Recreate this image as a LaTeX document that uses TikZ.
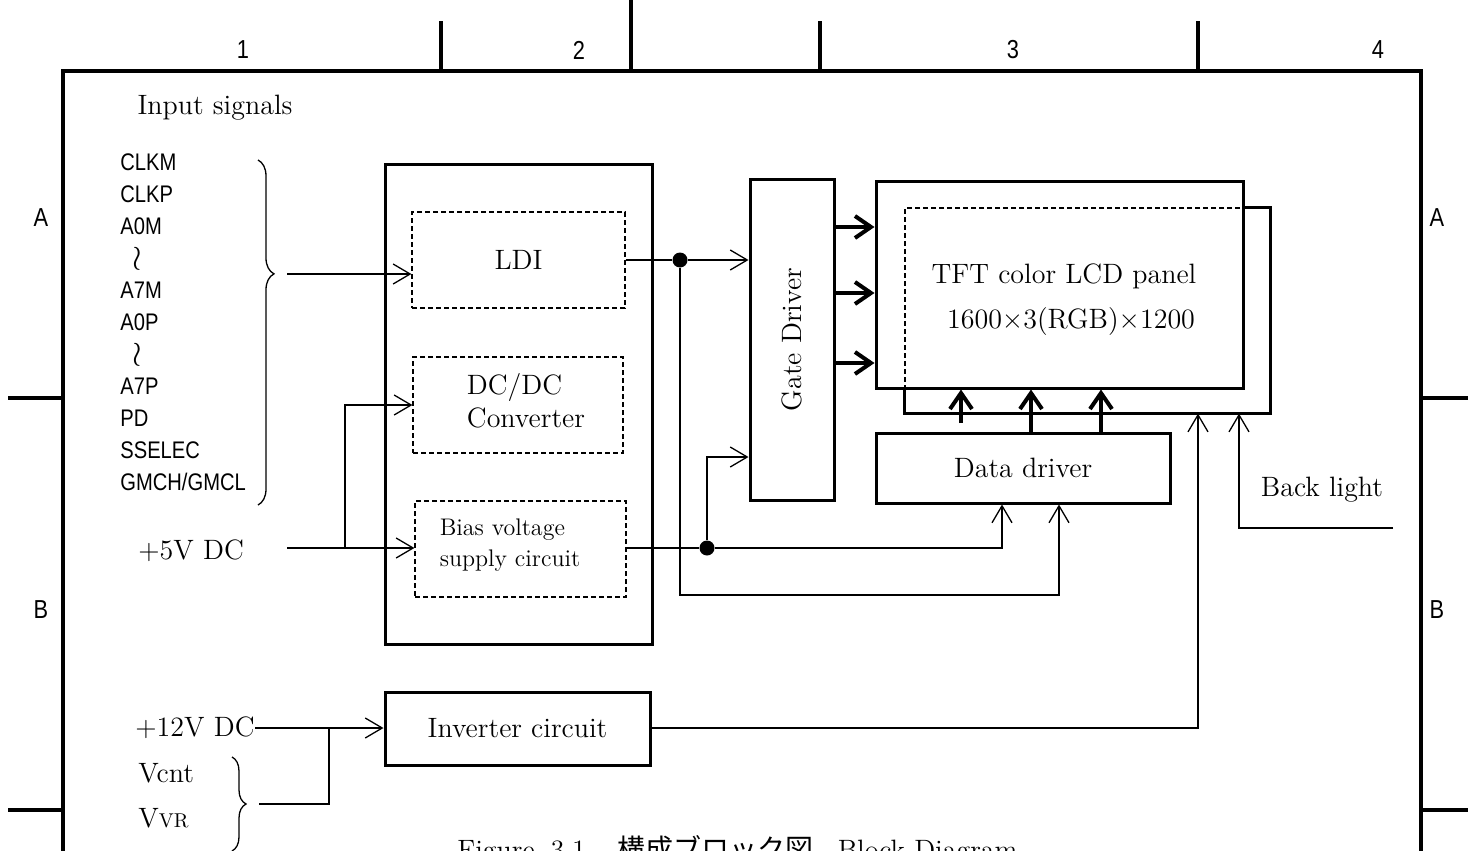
\documentclass[tikz,border=0pt]{standalone}
\usepackage{fontspec}
\usetikzlibrary{arrows.meta,decorations.pathreplacing}
\newfontfamily\gothic[FakeStretch=0.84]{Liberation Sans}
\newfontfamily\jpfont{Noto Sans CJK JP}
\newcommand{\waveto}{\hspace{6pt}\smash{\raisebox{-4.5pt}{\fontsize{16}{17}\selectfont$\wr$}}}

\begin{document}
\begin{tikzpicture}[x=0.5pt,y=-0.5pt,
    every node/.style={font=\fontsize{14}{16.5}\selectfont},
    frame/.style={line width=2pt},
    blk/.style={draw,line width=1.5pt,inner sep=0pt},
    sub/.style={draw,line width=0.6pt,dash pattern=on 2.5pt off 1.5pt,inner sep=0pt},
    wire/.style={line width=0.65pt},
    conn/.style={wire,-{Straight Barb[length=8.5pt,width=10pt]}},
    bus/.style={line width=2pt,-{Straight Barb[length=8pt,width=11pt]}},
    sig/.style={anchor=west,inner sep=0pt,font=\gothic\fontsize{12}{14}\selectfont},
    zone/.style={font=\gothic\fontsize{13}{15}\selectfont},
    dot/.style={circle,fill,inner sep=0pt,minimum size=7.5pt}]
    \useasboundingbox (0,0) rectangle (1468,851);
    \clip (0,0) rectangle (1468,851);

    % drawing frame
    \draw[frame] (63,851) -- (63,71) -- (1421,71) -- (1421,851);
    \draw[frame] (441,21) -- (441,71) (631,0) -- (631,71) (820,21) -- (820,71) (1198,21) -- (1198,71);
    \draw[frame] (8,398) -- (63,398) (8,810) -- (63,810) (1421,398) -- (1468,398) (1421,810) -- (1468,810);
    \foreach \t/\x in {1/243,2/579,3/1013,4/1378}
        \node[zone] (col\t) at (\x,50) {\t};
    \foreach \t/\y in {A/218,B/610} {
        \node[zone] (row\t l) at (41,\y) {\t};
        \node[zone] (row\t r) at (1437,\y) {\t};
    }

    % input signals
    \node (insig) at (215,108) {Input signals};
    \foreach \t [count=\i] in {CLKM,CLKP,A0M,\waveto,A7M,A0P,\waveto,A7P,PD,SSELEC,{GMCH/GMCL}}
        \node[sig] (sig\i) at (120,130+32*\i) {\t};
    \draw[wire,decorate,decoration={brace,amplitude=8pt,aspect=0.33}] (258,160) -- (258,505);
    \coordinate (in) at (287,274);

    % interface board
    \node[blk,minimum width=133.5pt,minimum height=240pt] (board) at (518.5,404) {};
    \node[sub,minimum width=106.5pt,minimum height=48pt] (ldi) at (518.5,260) {LDI};
    \node[sub,minimum width=105pt,minimum height=48pt] (dcdc) at (518,405) {};
    \node[align=left,inner sep=0pt] (dcdct) at (526,401) {DC/DC\\Converter};
    \node[sub,minimum width=105.5pt,minimum height=48pt] (bias) at (520.5,549) {};
    \node[align=left,inner sep=0pt,font=\fontsize{12}{15.5}\selectfont] (biast) at (510,545) {Bias voltage\\supply circuit};

    % panel side
    \node[blk,minimum width=42pt,minimum height=160.5pt] (gate) at (792,339.5) {};
    \node[rotate=90] (gatet) at (gate.center) {Gate Driver};
    \node[sub,minimum width=182.5pt,minimum height=102.5pt] (back) at (1087.5,310.5) {};
    \node[blk,minimum width=183.5pt,minimum height=103.5pt] (tft) at (1059.5,284.5) {};
    \draw[line width=1.5pt] (tft.east |- back.north) -- (back.north east) -- (back.south east)
        -- (back.south west) -- (back.west |- tft.south);
    \node[align=center,inner sep=0pt] (tftt) at (1064,300) {TFT color LCD panel\\[6pt]\hspace{7pt}1600×3(RGB)×1200};
    \node[blk,minimum width=147pt,minimum height=35pt] (data) at (1023,468) {Data driver};

    \foreach \y in {227,293,363}
        \draw[bus] (gate.east |- 0,\y) -- (tft.west |- 0,\y);
    \coordinate (d0) at (961,423);
    \draw[bus] (d0) -- (d0 |- tft.south);
    \foreach \x in {1031,1101}
        \draw[bus] (\x,0 |- data.north) -- (\x,0 |- tft.south);

    % signal path
    \draw[conn] (in) -- (in -| ldi.west);
    \node[dot] (j1) at (680,260) {};
    \draw[wire] (ldi.east) -- (j1);
    \draw[conn] (j1) -- (j1 -| gate.west);
    \coordinate (c1) at (1059,595);
    \draw[conn] (j1) |- (c1) -- (c1 |- data.south);

    % +5V
    \node[anchor=west,inner sep=0pt] (v5) at (138,551) {+5V DC};
    \coordinate (p5) at (287,548);
    \coordinate (j5) at (345,548);
    \draw[conn] (p5) -- (p5 -| bias.west);
    \draw[conn] (j5) |- (dcdc.west);
    \node[dot] (j2) at (707,548) {};
    \draw[wire] (bias.east |- j2) -- (j2);
    \coordinate (c2) at (1002,548);
    \draw[conn] (j2) -- (c2) -- (c2 |- data.south);
    \draw[conn] (j2) |- (gate.west |- 0,457);

    % back light
    \node[anchor=east,inner sep=0pt] (v12) at (255,728) {+12V DC};
    \node[blk,minimum width=132.5pt,minimum height=36.5pt] (inv) at (517.5,728.5) {Inverter circuit};
    \draw[conn] (v12.east) -- (v12.east -| inv.west);
    \node[anchor=west,inner sep=0pt] (vcnt) at (138,773) {Vcnt};
    \node[anchor=west,inner sep=0pt] (vvr) at (138,818) {V{\fontsize{10}{12}\selectfont VR}};
    \draw[wire,decorate,decoration={brace,amplitude=7pt}] (232,757) -- (232,851);
    \coordinate (vc) at (259,804);
    \coordinate (j3) at (329,728);
    \draw[wire] (vc) -| (j3);
    \coordinate (c3) at (1198,728);
    \draw[conn] (inv.east |- c3) -- (c3) -- (c3 |- back.south);
    \node (bl) at (1322,490) {Back light};
    \coordinate (p6) at (1393,528);
    \draw[conn] (p6) -| (1239,0 |- back.south);

    % caption, cut by the page edge as in the original
    \node[anchor=base west,inner sep=0pt] (cap) at (457,859)
        {Figure\hspace{8pt}3.1\hspace{16pt}{\jpfont 構成ブロック図}\hspace{12pt}Block Diagram};
\end{tikzpicture}
\end{document}
